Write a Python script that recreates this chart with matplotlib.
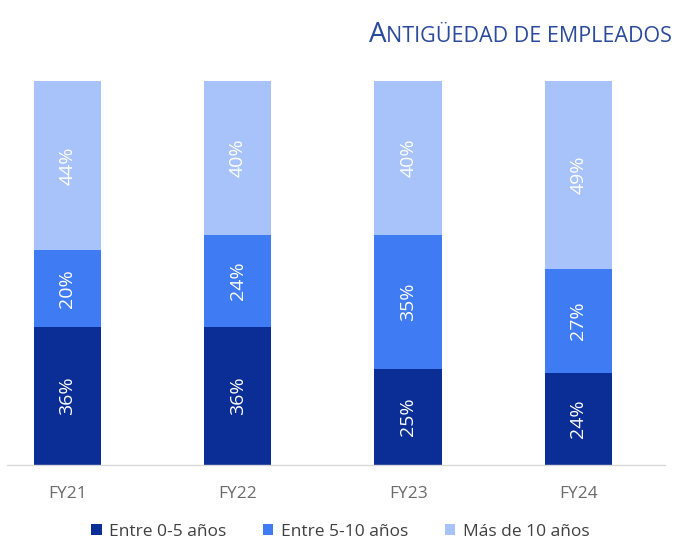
import matplotlib.pyplot as plt
import numpy as np

years = ['FY21', 'FY22', 'FY23', 'FY24']
entre_0_5 = [36, 36, 25, 24]
entre_5_10 = [20, 24, 35, 27]
mas_10 = [44, 40, 40, 49]
series_names = ['Entre 0-5 años', 'Entre 5-10 años', 'Más de 10 años']
colors = ['#0a2e96', '#3f7cf3', '#a7c3f9']

plt.rcParams['font.family'] = ['Open Sans', 'DejaVu Sans']

fig = plt.figure(figsize=(6.81, 5.42), dpi=100)
ax = fig.add_axes([7 / 681, 1 - 465 / 542, 658 / 681, 384 / 542])

x = np.arange(len(years))
bottom = np.zeros(len(years))
for vals, name, col in zip([entre_0_5, entre_5_10, mas_10], series_names, colors):
    bars = ax.bar(x, vals, width=0.395, bottom=bottom, color=col, label=name)
    for rect, v in zip(bars, vals):
        ax.text(rect.get_x() + rect.get_width() / 2, rect.get_y() + rect.get_height() / 2,
                f'{v}%', rotation=90, ha='center', va='center', color='white', fontsize=14)
    bottom += np.array(vals)

ax.set_xlim(-0.355, 3.508)
ax.set_ylim(0, 100)
ax.set_xticks(x)
ax.set_xticklabels(years, fontsize=12.5, color='#6b6b6b')
ax.tick_params(axis='x', length=0, pad=15)
ax.set_yticks([])
for s in ['top', 'left', 'right']:
    ax.spines[s].set_visible(False)
ax.spines['bottom'].set_color('#d9d9d9')
ax.spines['bottom'].set_linewidth(1)

fig.legend(loc='center', bbox_to_anchor=(0.5, 1 - 532 / 542), ncol=3, frameon=False,
           fontsize=12.5, labelcolor='#404040', handlelength=0.6, handleheight=0.6,
           handletextpad=0.45, columnspacing=2.1)

# title in small caps: big first letter, smaller remainder
title_color = '#2b4a9c'
rest = fig.text(672 / 681, 1 - 42 / 542, 'NTIGÜEDAD DE EMPLEADOS', ha='right', va='baseline',
                fontsize=15.5, color=title_color)
fig.canvas.draw()
bb = rest.get_window_extent()
fig.text(bb.x0 / fig.bbox.width, 1 - 42 / 542, 'A', ha='right', va='baseline',
         fontsize=20, color=title_color)

fig.savefig('out.png', dpi=100)
